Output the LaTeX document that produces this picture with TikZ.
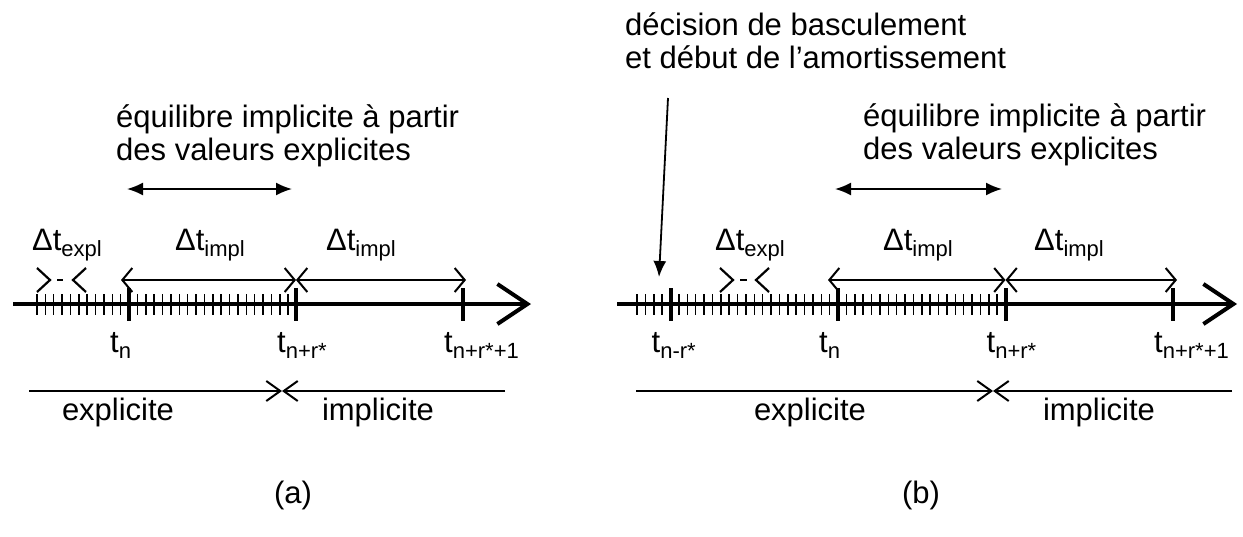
\documentclass[tikz,border=0pt]{standalone}
\usepackage{fontspec}
\setmainfont{Liberation Sans}
\usetikzlibrary{arrows.meta}
\newcommand{\sbs}[1]{\raisebox{-6pt}{\fontsize{22}{22}\selectfont #1}}

\begin{document}
\begin{tikzpicture}[x=1pt, y=-1pt,
  lbl/.style={font=\fontsize{31}{33}\selectfont, inner sep=0pt},
  axisline/.style={line width=4pt, -{Straight Barb[length=30pt, width=40pt]}},
  minor/.style={line width=1.5pt},
  major/.style={line width=4pt},
  dim/.style={line width=1.4pt, {Straight Barb[length=10pt, width=24pt, line width=2pt]}-{Straight Barb[length=10pt, width=24pt, line width=2pt]}},
  span/.style={line width=1.4pt, -{Straight Barb[length=14pt, width=20pt, line width=2pt]}},
  both/.style={line width=1.8pt, {Latex[length=16pt, width=13pt]}-{Latex[length=16pt, width=13pt]}},
  chev/.style={line width=2.2pt},
]
\useasboundingbox (0,0) rectangle (1243,536);

% (a)
\coordinate (A0) at (13,304);
\coordinate (A1) at (531,304);
\draw[axisline] (A0) -- (A1);
\foreach \k in {0,...,31}
  \draw[minor] ({36.9+8.375*\k},294) -- ++(0,21);
\foreach \x/\nm/\t in {129/an/{t\sbs{n}}, 296/ar/{t\sbs{n+r*}}, 463/as/{t\sbs{n+r*+1}}} {
  \draw[major] (\x,288) -- (\x,321);
  \node[lbl, anchor=base west] (\nm) at (\x-19,352) {\t};
}
% pas explicite
\draw[chev] (37,268) -- (50,280) -- (37,292);
\draw[chev] (57,280) -- (63,280);
\draw[chev] (86,268) -- (73,280) -- (86,292);
\node[lbl, anchor=base] (lea) at (67,250) {Δt\sbs{expl}};
% pas implicites
\coordinate (da1) at (121,280);
\coordinate (da2) at (296,280);
\coordinate (da3) at (466,280);
\draw[dim] (da1) -- (da2);
\draw[dim] (da2) -- (da3);
\node[lbl, anchor=base] (lia1) at (210,250) {Δt\sbs{impl}};
\node[lbl, anchor=base] (lia2) at (361,250) {Δt\sbs{impl}};
% equilibre
\node[lbl, anchor=base west, align=left] (eqa) at (116,160) {équilibre implicite à partir\\des valeurs explicites};
\coordinate (ea1) at (127,189);
\coordinate (ea2) at (292,189);
\draw[both] (ea1) -- (ea2);
% explicite / implicite
\coordinate (la1) at (29,391);
\coordinate (lax) at (282,391);
\coordinate (la2) at (505,391);
\draw[span] (la1) -- (lax);
\draw[span] (la2) -- (lax);
\node[lbl, anchor=base] (xa) at (118,420) {explicite};
\node[lbl, anchor=base] (ia) at (378,420) {implicite};
\node[lbl, anchor=base] (capa) at (293,503) {(a)};

% (b)
\coordinate (B0) at (617,304);
\coordinate (B1) at (1237,304);
\draw[axisline] (B0) -- (B1);
\foreach \k in {0,...,44}
  \draw[minor] ({637+8.375*\k},294) -- ++(0,21);
\foreach \x/\nm/\t in {670.5/bm/{t\sbs{n-r*}}, 838/bn/{t\sbs{n}}, 1005.5/br/{t\sbs{n+r*}}, 1173/bs/{t\sbs{n+r*+1}}} {
  \draw[major] (\x,288) -- (\x,321);
  \node[lbl, anchor=base west] (\nm) at (\x-19,352) {\t};
}
% decision
\node[lbl, anchor=base west, align=left] (dec) at (625,68) {décision de basculement\\et début de l’amortissement};
\coordinate (dc1) at (668,98);
\coordinate (dc2) at (659,277);
\draw[line width=1.8pt, -{Latex[length=16pt, width=13pt]}] (dc1) -- (dc2);
% pas explicite
\draw[chev] (720,268) -- (733,280) -- (720,292);
\draw[chev] (740,280) -- (747,280);
\draw[chev] (769,268) -- (756,280) -- (769,292);
\node[lbl, anchor=base] (leb) at (750,250) {Δt\sbs{expl}};
% pas implicites
\coordinate (db1) at (828,280);
\coordinate (db2) at (1005.5,280);
\coordinate (db3) at (1177,280);
\draw[dim] (db1) -- (db2);
\draw[dim] (db2) -- (db3);
\node[lbl, anchor=base] (lib1) at (918,250) {Δt\sbs{impl}};
\node[lbl, anchor=base] (lib2) at (1069,250) {Δt\sbs{impl}};
% equilibre
\node[lbl, anchor=base west, align=left] (eqb) at (863,159) {équilibre implicite à partir\\des valeurs explicites};
\coordinate (eb1) at (835,189);
\coordinate (eb2) at (1002,189);
\draw[both] (eb1) -- (eb2);
% explicite / implicite
\coordinate (lb1) at (636,391);
\coordinate (lbx) at (993,391);
\coordinate (lb2) at (1232,391);
\draw[span] (lb1) -- (lbx);
\draw[span] (lb2) -- (lbx);
\node[lbl, anchor=base] (xb) at (810,420) {explicite};
\node[lbl, anchor=base] (ib) at (1099,420) {implicite};
\node[lbl, anchor=base] (capb) at (921,503) {(b)};
\end{tikzpicture}
\end{document}
